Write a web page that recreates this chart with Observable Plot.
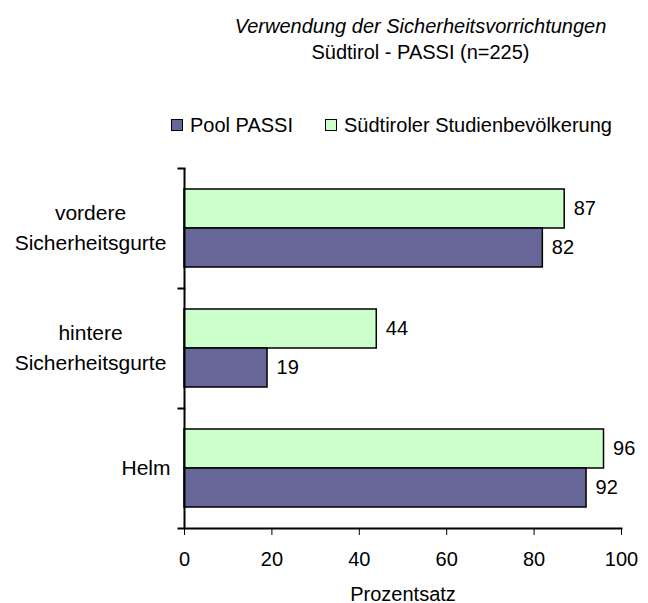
<!DOCTYPE html>
<html>
<head>
<meta charset="utf-8">
<script src="https://cdn.jsdelivr.net/npm/d3@7"></script>
<script src="https://cdn.jsdelivr.net/npm/@observablehq/plot@0.6"></script>
<style>
  html, body { margin: 0; padding: 0; background: #fff; overflow: hidden; }
  body { width: 648px; height: 603px; font-family: "Liberation Sans", Arial, sans-serif; color: #000; }
  #head { height: 138px; position: relative; }
  .title { position: absolute; left: 193px; width: 455px; text-align: center; font-size: 20px; line-height: 26px; white-space: nowrap; }
  #t1 { top: 13px; font-style: italic; }
  #t2 { top: 39px; }
  #legend { position: absolute; top: 112px; left: 171px; display: flex; align-items: center; font-size: 20px; line-height: 26px; white-space: nowrap; }
  .sw { width: 10px; height: 10px; border: 1px solid #000; margin-right: 7px; }
  .item { display: flex; align-items: center; margin-right: 32px; }
  svg { display: block; }
</style>
</head>
<body>
<div id="head">
  <div class="title" id="t1">Verwendung der Sicherheitsvorrichtungen</div>
  <div class="title" id="t2">Südtirol - PASSI (n=225)</div>
  <div id="legend"></div>
</div>
<div id="chart"></div>
<script>
const categories = ["vordere\nSicherheitsgurte", "hintere\nSicherheitsgurte", "Helm"];
const seriesNames = ["Südtiroler Studienbevölkerung", "Pool PASSI"];
const suedtirolValues = [87, 44, 96];
const poolPassiValues = [82, 19, 92];
const seriesColors = ["#CCFFCC", "#666699"];
const legendOrder = ["Pool PASSI", "Südtiroler Studienbevölkerung"];
const xTicks = [0, 20, 40, 60, 80, 100];

const rows = [];
categories.forEach((c, i) => {
  rows.push({cat: c, series: seriesNames[0], value: suedtirolValues[i]});
  rows.push({cat: c, series: seriesNames[1], value: poolPassiValues[i]});
});

// legend
const legend = document.getElementById("legend");
legendOrder.forEach(name => {
  const item = document.createElement("div");
  item.className = "item";
  const sw = document.createElement("div");
  sw.className = "sw";
  sw.style.background = seriesColors[seriesNames.indexOf(name)];
  const tx = document.createElement("span");
  tx.textContent = name;
  item.append(sw, tx);
  legend.append(item);
});

const W = 648, H = 465, ML = 184, MR = 27, MT = 29, MB = 75;
const plotWidth = W - ML - MR;
const multi = categories.filter(c => c.includes("\n"));
const single = categories.filter(c => !c.includes("\n"));

const chart = Plot.plot({
  width: W,
  height: H,
  marginLeft: ML,
  marginRight: MR,
  marginTop: MT,
  marginBottom: MB,
  style: {fontFamily: "Liberation Sans, Arial, sans-serif", fontSize: "20px", color: "#000", background: "#fff"},
  x: {domain: [0, 100], ticks: xTicks, tickSize: 7, tickPadding: 16, label: "Prozentsatz", labelAnchor: "center", labelArrow: "none", labelOffset: 72},
  fy: {domain: categories, padding: 0, axis: null},
  y: {domain: seriesNames, paddingInner: 0, paddingOuter: 0.53, axis: null},
  color: {domain: seriesNames, range: seriesColors},
  marks: [
    Plot.barX(rows, {fy: "cat", y: "series", x: "value", fill: "series", stroke: "#000", strokeWidth: 1.5}),
    Plot.text(rows, {fy: "cat", y: "series", x: "value", text: d => String(d.value), dx: 9, textAnchor: "start", fontSize: 20, fill: "#000"}),
    Plot.ruleX([0], {stroke: "#000", strokeWidth: 2}),
    Plot.frame({anchor: "top", insetLeft: -6, insetRight: plotWidth, stroke: "#000", strokeWidth: 2}),
    Plot.frame({anchor: "bottom", insetLeft: -6, fy: ["Helm"], stroke: "#000", strokeWidth: 2}),
    Plot.text(multi, {fy: d => d, text: d => d, frameAnchor: "left", dx: -94, dy: -3, textAnchor: "middle", lineHeight: 1.4, fontSize: 21, fill: "#000"}),
    Plot.text(single, {fy: d => d, text: d => d, frameAnchor: "left", dx: -14, textAnchor: "end", fontSize: 21, fill: "#000"})
  ]
});
document.getElementById("chart").append(chart);
</script>
</body>
</html>
